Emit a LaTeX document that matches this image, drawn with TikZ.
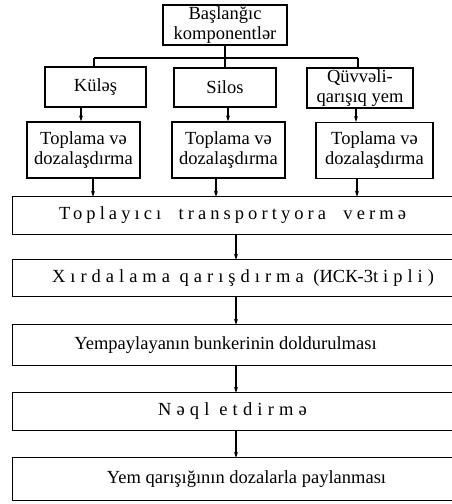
\documentclass[tikz,border=0pt]{standalone}
\usepackage{fontspec}
\setmainfont{Liberation Serif}
\usetikzlibrary{arrows.meta}
\newcommand{\spc}[2][22]{{\addfontfeature{LetterSpace=#1}#2}}
\begin{document}
\begin{tikzpicture}[x=1pt,y=-1pt,
  every node/.style={font=\fontsize{18.5}{20}\selectfont},
  box/.style={draw, line width=1.2pt, rectangle, inner sep=0pt, align=center},
  obox/.style={rectangle, inner sep=0pt, align=center, minimum width=439pt},
  ln/.style={line width=1.2pt},
  arr/.style={line width=1.2pt, -{Stealth[length=6pt,width=4pt]}}]
\useasboundingbox (0,0) rectangle (452,504);
% top
\node[box, minimum width=124pt, minimum height=40pt] (start) at (225,25) {Başlanğıc\\komponentlər};
\node[box, minimum width=101pt, minimum height=40pt] (kules) at (95.5,87) {Küləş};
\node[box, minimum width=102pt, minimum height=39pt] (silos) at (225,87.5) {Silos};
\node[box, minimum width=106pt, minimum height=40pt] (quv) at (360,88) {Qüvvəli-\\qarışıq yem};
\node[box, minimum width=113pt, minimum height=56pt] (top1) at (83.5,150) {Toplama və\\dozalaşdırma};
\node[box, minimum width=113pt, minimum height=56pt] (top2) at (228.5,150) {Toplama və\\dozalaşdırma};
\node[box, minimum width=117pt, minimum height=56pt] (top3) at (374.5,150.5) {Toplama və\\dozalaşdırma};
% lower open boxes
\node[obox, minimum height=37pt] (b1) at (232.5,215.5) {\spc{Toplayıcı\ \ transportyora\ \ vermə}};
\node[obox, minimum height=36pt] (b2) at (232.5,278) {\hspace*{21pt}\spc[27]{Xırdalama qarışdırma (}ИСК-3\spc[27]{tipli)}};
\node[obox, minimum height=40pt] (b3) at (232.5,345) {Yempaylayanın bunkerinin doldurulması\hspace*{14pt}};
\node[obox, minimum height=37pt] (b4) at (232.5,411.5) {\spc[28]{Nəql\ etdirmə}};
\node[obox, minimum height=42pt] (b5) at (232.5,479) {\hspace*{28pt}Yem qarışığının dozalarla paylanması};
\foreach \b in {b1,b2,b3,b4,b5}{
  \draw[ln] ([xshift=30pt]\b.north east) -- (\b.north west) -- (\b.south west) -- ([xshift=30pt]\b.south east);
}
% connectors
\coordinate (hy) at (0,58);
\coordinate (xk) at (94,0);
\coordinate (xq) at (358,0);
\draw[ln] (start.south) -- (start.south |- hy);
\draw[ln] (xk |- hy) -- (xq |- hy);
\draw[ln] (xk |- hy) -- (xk |- kules.north);
\draw[ln] (silos.north |- hy) -- (silos.north);
\draw[ln] (xq |- hy) -- (xq |- quv.north);
\coordinate (a1) at (81,0);
\coordinate (a2) at (228,0);
\coordinate (a3) at (356,0);
\draw[arr] (a1 |- kules.south) -- (a1 |- top1.north);
\draw[arr] (a2 |- silos.south) -- (a2 |- top2.north);
\draw[arr] (a3 |- quv.south) -- (a3 |- top3.north);
\coordinate (c1) at (93,0);
\coordinate (c2) at (216,0);
\coordinate (c3) at (357,0);
\draw[arr] (c1 |- top1.south) -- (c1 |- b1.north);
\draw[arr] (c2 |- top2.south) -- (c2 |- b1.north);
\draw[arr] (c3 |- top3.south) -- (c3 |- b1.north);
\coordinate (m) at (236,0);
\draw[arr] (m |- b1.south) -- (m |- b2.north);
\draw[arr] (m |- b2.south) -- (m |- b3.north);
\draw[arr] (m |- b3.south) -- (m |- b4.north);
\draw[arr] (m |- b4.south) -- (m |- b5.north);
\end{tikzpicture}
\end{document}
